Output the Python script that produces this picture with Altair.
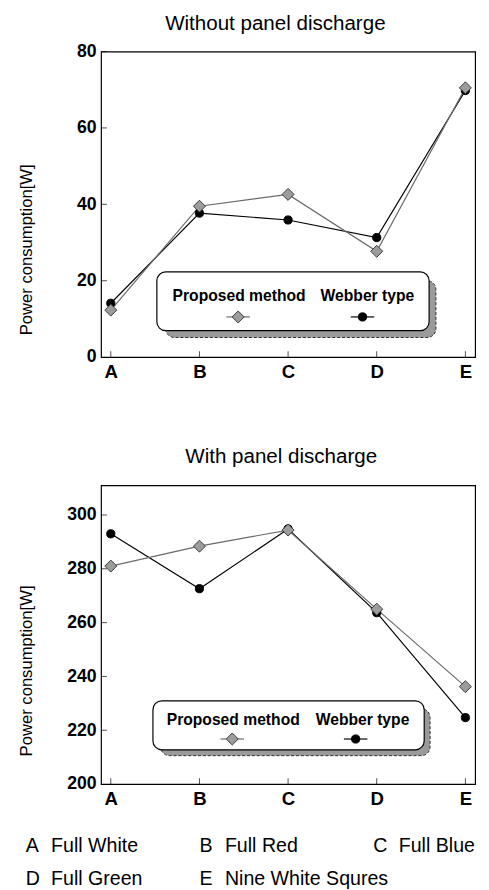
import altair as alt
import pandas as pd

# ---------------- data ----------------
categories = ["A", "B", "C", "D", "E"]
series = ["Proposed method", "Webber type"]
top_proposed = [12.3, 39.5, 42.6, 27.7, 70.5]
top_webber = [14.1, 37.7, 35.9, 31.3, 69.8]
bottom_proposed = [281.0, 288.4, 294.4, 265.0, 236.2]
bottom_webber = [293.0, 272.6, 294.8, 263.7, 224.7]
top_title = "Without panel discharge"
bottom_title = "With panel discharge"
y_title = "Power consumption[W]"
top_ticks = [0, 20, 40, 60, 80]
bottom_ticks = [200, 220, 240, 260, 280, 300]
note_letters = ["A", "B", "C", "D", "E"]
note_names = ["Full White", "Full Red", "Full Blue", "Full Green", "Nine White Squres"]

FONT = "Liberation Sans"
W = 382
one = pd.DataFrame({"k": [0]})

styles = {
    "Proposed method": dict(line="#6a6a6a", shape="diamond", fill="#9c9c9c", stroke="#3a3a3a", size=150),
    "Webber type": dict(line="#000000", shape="circle", fill="#000000", stroke="#000000", size=70),
}


def panel(vals_p, vals_w, title, title_dx, title_offset, ydomain, yticks, height, ytitle_y, lg, notes=False):
    xscale = alt.Scale(type="point", padding=0.11, domain=categories)
    yscale = alt.Scale(domain=ydomain, nice=False, zero=False)
    xenc = alt.X("cat:N", sort=categories, scale=xscale,
                 axis=alt.Axis(title=None, labelAngle=0, labelFont=FONT, labelFontWeight="bold",
                               labelFontSize=19, labelColor="black", labelPadding=6, labelFlush=False,
                               ticks=False, domain=False, grid=False))
    yenc = alt.Y("value:Q", scale=yscale,
                 axis=alt.Axis(values=yticks, title=y_title, titleFont=FONT, titleFontSize=17,
                               titleFontWeight="normal", titleColor="black", titleX=-71,
                               titleY=ytitle_y, titleBaseline="alphabetic", titleAngle=270,
                               labelFont=FONT, labelFontWeight="bold", labelFontSize=18,
                               labelColor="black", labelPadding=5, labelFlush=False,
                               ticks=False, domain=False, grid=False))
    data_layers = []
    order = ["Webber type", "Proposed method"]
    vals = {"Proposed method": vals_p, "Webber type": vals_w}
    for s in order:
        df = pd.DataFrame({"cat": categories, "value": vals[s]})
        st = styles[s]
        data_layers.append(alt.Chart(df).mark_line(color=st["line"], strokeWidth=1.2).encode(x=xenc, y=yenc))
    for s in order:
        df = pd.DataFrame({"cat": categories, "value": vals[s]})
        st = styles[s]
        data_layers.append(alt.Chart(df).mark_point(shape=st["shape"], filled=True, fill=st["fill"],
                                                   stroke=st["stroke"], strokeWidth=1, opacity=1,
                                                   size=st["size"]).encode(x=xenc, y=yenc))
    # small inward ticks on the frame
    cdf = pd.DataFrame({"cat": categories})
    data_layers.append(alt.Chart(cdf).mark_tick(orient="vertical", size=6, thickness=1, color="black").encode(
        x=xenc, y=alt.value(height - 3)))
    tdf = pd.DataFrame({"value": yticks[1:]})
    data_layers.append(alt.Chart(tdf).mark_tick(orient="horizontal", size=6, thickness=1, color="black").encode(
        y=yenc, x=alt.value(3)))
    data = alt.layer(*data_layers)

    # legend box
    bx0, bx1, by0, by1, sh = lg["box"]
    deco = [
        alt.Chart(one).mark_rect(cornerRadius=9, fill="#9a9a9a", stroke="#2a2a2a", strokeWidth=1,
                                 strokeDash=[3, 2]).encode(
            x=alt.value(bx0 + sh + 2), x2=alt.value(bx1 + sh), y=alt.value(by0 + sh + 2), y2=alt.value(by1 + sh)),
        alt.Chart(one).mark_rect(cornerRadius=9, fill="white", stroke="black", strokeWidth=1.2).encode(
            x=alt.value(bx0), x2=alt.value(bx1), y=alt.value(by0), y2=alt.value(by1)),
    ]
    for s, (lx, ly, mx, my) in zip(series, lg["items"]):
        st = styles[s]
        sdf = pd.DataFrame({"s": [s]})
        deco.append(alt.Chart(sdf).mark_text(font=FONT, fontSize=16, fontWeight="bold", color="black",
                                             align="center", baseline="alphabetic").encode(
            text="s:N", x=alt.value(lx), y=alt.value(ly)))
        deco.append(alt.Chart(sdf).mark_rule(color=st["line"], strokeWidth=1.2).encode(
            x=alt.value(mx - 12), x2=alt.value(mx + 12), y=alt.value(my)))
        deco.append(alt.Chart(sdf).mark_point(shape=st["shape"], filled=True, fill=st["fill"],
                                              stroke=st["stroke"], strokeWidth=1, opacity=1,
                                              size=st["size"]).encode(x=alt.value(mx), y=alt.value(my)))
    layers = [data] + deco
    if notes:
        ndf = pd.DataFrame({"letter": note_letters, "name": note_names,
                            "col": [i % 3 for i in range(len(note_letters))],
                            "row": [i // 3 for i in range(len(note_letters))]})
        nx = alt.X("col:Q", scale=alt.Scale(domain=[0, 2], range=[-77, 278]), axis=None)
        ny = alt.Y("row:Q", scale=alt.Scale(domain=[0, 1], range=[374, 408]), axis=None)
        layers.append(alt.Chart(ndf).mark_text(font=FONT, fontSize=20, color="black", align="left",
                                               baseline="alphabetic").encode(x=nx, y=ny, text="letter:N"))
        layers.append(alt.Chart(ndf).mark_text(font=FONT, fontSize=20, color="black", align="left",
                                               baseline="alphabetic", dx=26).encode(x=nx, y=ny, text="name:N"))
    ch = alt.layer(*layers).properties(
        width=W, height=height,
        title=alt.TitleParams(title, dx=title_dx, font=FONT, fontSize=21, fontWeight="normal",
                              color="black", anchor="middle", offset=title_offset))
    if notes:
        ch = ch.resolve_scale(x="independent", y="independent")
    return ch


top = panel(top_proposed, top_webber, top_title, -13, 9, [0, 80], top_ticks, 312, 202,
            {"box": (57, 335, 225, 285, 7), "items": [(141, 255, 140, 271), (272, 255, 267, 271)]})
bottom = panel(bottom_proposed, bottom_webber, bottom_title, -7, 19, [200, 311], bottom_ticks, 305, 189,
               {"box": (53, 330, 220, 270, 6), "items": [(135, 245, 134, 259), (267, 245, 260, 259)]},
               notes=True)

chart = alt.vconcat(top, bottom, spacing=64).properties(
    padding={"left": 9, "top": -5, "right": 5, "bottom": 5}
).configure_view(stroke="black", strokeWidth=1.2)

chart.save("out.html", embed_options={"renderer": "svg", "actions": False})
